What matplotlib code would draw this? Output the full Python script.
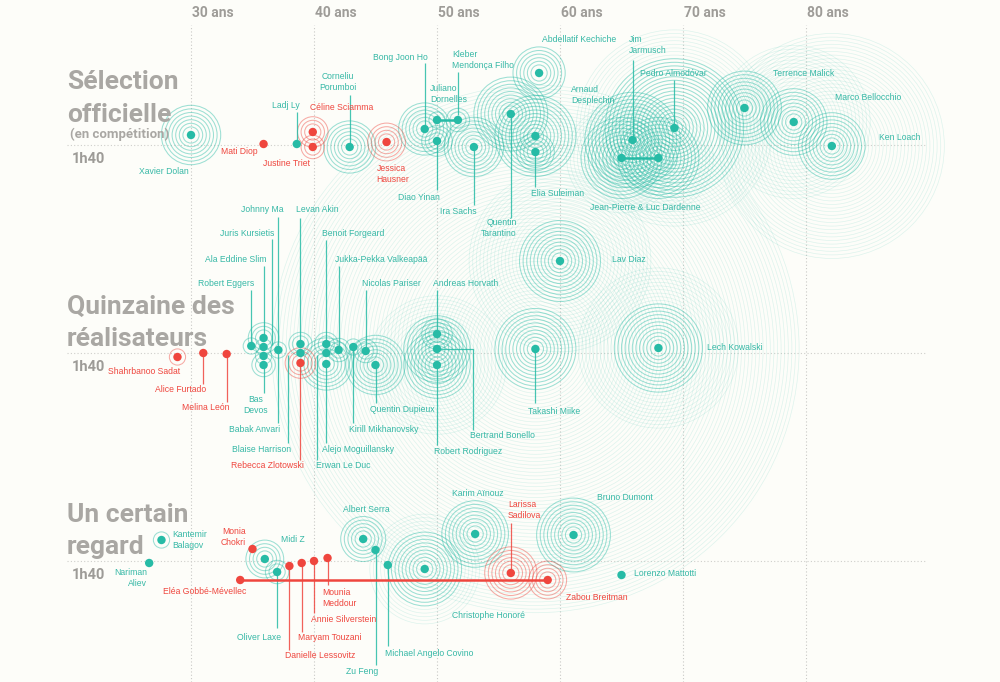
import numpy as np
import matplotlib.pyplot as plt

# Cannes 2019 : age des cineastes, duree du film, nombre de films deja realises

TEAL = '#27bba6'
TEAL_TXT = '#36b8a6'
RED = '#ef463e'
GRIS = '#a9a7a3'
FOND = '#fdfdf9'

NOM_FONT = ['Liberation Sans', 'DejaVu Sans']
TITRE_FONT = ['Roboto', 'DejaVu Sans']

# ######################################################
# data
# ######################################################
# Selection officielle
sel_noms = ["Xavier Dolan", "Mati Diop", "Ladj Ly", "Céline Sciamma", "Justine Triet",
            "Corneliu\nPorumboi", "Jessica\nHausner", "Bong Joon Ho", "Juliano\nDornelles",
            "Kleber\nMendonça Filho", "Diao Yinan", "Ira Sachs", "Quentin\nTarantino",
            "Abdellatif Kechiche", "Arnaud\nDesplechin", "Elia Suleiman", "Jim\nJarmusch",
            "Jean-Pierre & Luc Dardenne", "", "Pedro Almodóvar", "Terrence Malick",
            "Marco Bellocchio", "Ken Loach"]
sel_ages = [30.0, 35.9, 38.6, 39.9, 39.9, 42.9, 45.9, 49.0, 50.0, 51.7, 50.0, 53.0, 56.0,
            58.3, 58.0, 58.0, 65.9, 65.0, 68.0, 69.3, 75.0, 79.0, 82.1]
sel_durees = [120, 102, 102, 126, 96, 96, 106, 132, 150, 150, 108, 96, 162,
              244, 118, 86, 110, 74, 74, 134, 174, 146, 98]
sel_films = [7, 0, 0, 3, 2, 6, 4, 6, 1, 2, 3, 7, 9, 6, 10, 4, 12, 10, 10, 18, 9, 8, 8]
sel_autres = [0, 0, 0, 0, 0, 0, 0, 0, 0, 0, 0, 0, 0, 0, 0, 0, 0, 4, 4, 8, 0, 12, 22]
sel_femmes = ["Mati Diop", "Céline Sciamma", "Justine Triet", "Jessica\nHausner"]

# Quinzaine des realisateurs
qz_noms = ["Shahrbanoo Sadat", "Alice Furtado", "Melina León", "Robert Eggers",
           "Ala Eddine Slim", "Juris Kursietis", "Johnny Ma", "Babak Anvari", "Bas\nDevos",
           "Levan Akin", "Blaise Harrison", "Rebecca Zlotowski", "Benoit Forgeard",
           "Erwan Le Duc", "Alejo Moguillansky", "Jukka-Pekka Valkeapää",
           "Kirill Mikhanovsky", "Nicolas Pariser", "Quentin Dupieux", "Andreas Horvath",
           "Bertrand Bonello", "Robert Rodriguez", "Takashi Miike", "Lav Diaz",
           "Lech Kowalski"]
qz_ages = [28.9, 31.0, 32.9, 34.9, 35.9, 35.9, 37.1, 35.9, 35.9, 38.9, 38.9, 38.9, 41.0,
           41.0, 41.0, 42.0, 43.2, 44.2, 45.0, 50.0, 50.0, 50.0, 58.0, 60.0, 68.0]
qz_durees = [92, 100, 98, 114, 130, 112, 106, 94, 76, 118, 100, 80, 118,
             100, 78, 106, 112, 104, 76, 138, 108, 76, 108, 284, 110]
qz_films = [1, 0, 0, 1, 3, 1, 1, 1, 2, 2, 0, 3, 2, 0, 6, 2, 1, 2, 7, 3, 8, 8, 10, 10, 11]
qz_autres = [0, 0, 0, 0, 0, 0, 0, 0, 0, 0, 0, 0, 0, 0, 0, 0, 0, 0, 0, 0, 0, 10, 62, 14, 10]
qz_femmes = ["Shahrbanoo Sadat", "Alice Furtado", "Melina León", "Rebecca Zlotowski"]

# Un certain regard
ucr_noms = ["Nariman\nAliev", "Kantemir\nBalagov", "Monia\nChokri", "Midi Z", "Oliver Laxe",
            "Eléa Gobbé-Mévellec", "Danielle Lessovitz", "Maryam Touzani", "Annie Silverstein",
            "Mounia\nMeddour", "Albert Serra", "Zu Feng", "Michael Angelo Covino",
            "Christophe Honoré", "Karim Aïnouz", "Larissa\nSadilova", "Zabou Breitman",
            "Bruno Dumont", "Lorenzo Mattotti"]
ucr_ages = [26.6, 27.6, 35.0, 36.0, 37.0, 34.0, 38.0, 39.0, 40.0, 41.1, 44.0, 45.0, 46.0,
            49.0, 53.1, 56.0, 59.0, 61.1, 65.0]
ucr_durees = [96, 142, 124, 104, 78, 62, 90, 96, 100, 106, 144, 122, 92, 84, 154, 76, 62, 152, 72]
ucr_films = [0, 1, 0, 4, 2, 0, 0, 0, 0, 0, 5, 0, 0, 9, 8, 6, 4, 9, 0]
ucr_autres = [0, 0, 0, 0, 0, 0, 0, 0, 0, 0, 0, 0, 0, 5, 0, 0, 0, 0, 0]
ucr_femmes = ["Monia\nChokri", "Eléa Gobbé-Mévellec", "Danielle Lessovitz", "Maryam Touzani",
              "Annie Silverstein", "Mounia\nMeddour", "Larissa\nSadilova", "Zabou Breitman"]

# co-realisateurs
liens = [("Juliano\nDornelles", "Kleber\nMendonça Filho"),
         ("Jean-Pierre & Luc Dardenne", ""),
         ("Eléa Gobbé-Mévellec", "Zabou Breitman")]

ages_grille = [30, 40, 50, 60, 70, 80]
titres = [["Sélection", "officielle"], ["Quinzaine des", "réalisateurs"], ["Un certain", "regard"]]

# ######################################################
# label placement (pixels relative to the dot)
# (dx, dy, ha, leader polyline)
# ######################################################
etiquettes = {
    "Xavier Dolan": (-2, 37, 'right', None),
    "Mati Diop": (-6, 8, 'right', None),
    "Ladj Ly": (3, -38, 'right', [(0, 0), (0, -32)]),
    "Céline Sciamma": (-3, -25, 'left', None),
    "Justine Triet": (-3, 17, 'right', None),
    "Corneliu\nPorumboi": (-12, -65, 'center', [(0, 0), (0, -52)]),
    "Jessica\nHausner": (-10, 32, 'left', None),
    "Bong Joon Ho": (3, -72, 'right', [(0, 0), (0, -66)]),
    "Juliano\nDornelles": (-7, -26, 'left', None),
    "Kleber\nMendonça Filho": (-6, -60, 'left', [(0, -5), (0, -48)]),
    "Diao Yinan": (3, 56, 'right', [(0, 0), (0, 49)]),
    "Ira Sachs": (3, 64, 'right', [(0, 0), (0, 58)]),
    "Quentin\nTarantino": (6, 114, 'right', [(0, 0), (0, 104)]),
    "Abdellatif Kechiche": (3, -33, 'left', None),
    "Arnaud\nDesplechin": (36, -41, 'left', None),
    "Elia Suleiman": (-4, 41, 'left', [(0, 0), (0, 35)]),
    "Jim\nJarmusch": (-4, -95, 'left', [(0, 0), (0, -80)]),
    "Jean-Pierre & Luc Dardenne": (24, 49, 'center', None),
    "Pedro Almodóvar": (-1, -55, 'center', [(0, 0), (0, -48)]),
    "Terrence Malick": (28, -34, 'left', None),
    "Marco Bellocchio": (41, -24, 'left', None),
    "Ken Loach": (47, -8, 'left', None),

    "Shahrbanoo Sadat": (3, 14, 'right', None),
    "Alice Furtado": (3, 36, 'right', [(0, 0), (0, 31)]),
    "Melina León": (3, 54, 'right', [(0, 0), (0, 48)]),
    "Robert Eggers": (3, -63, 'right', [(0, 0), (0, -56)]),
    "Ala Eddine Slim": (3, -79, 'right', [(0, 0), (0, -72)]),
    "Juris Kursietis": (11, -114, 'right', [(8, -2), (8, -108)]),
    "Johnny Ma": (5, -140, 'right', [(0, 0), (0, -133)]),
    "Babak Anvari": (17, 74, 'right', [(14, -6), (14, 67)]),
    "Bas\nDevos": (-8, 40, 'center', [(0, 0), (0, 28)]),
    "Levan Akin": (-4, -134, 'left', [(0, 0), (0, -126)]),
    "Blaise Harrison": (-9, 96, 'right', [(-12, 2), (-12, 90)]),
    "Rebecca Zlotowski": (3, 103, 'right', [(0, 0), (0, 97)]),
    "Benoit Forgeard": (-4, -111, 'left', [(0, 0), (0, -104)]),
    "Erwan Le Duc": (-10, 113, 'left', [(-9, 2), (-9, 107)]),
    "Alejo Moguillansky": (-4, 85, 'left', [(0, 0), (0, 79)]),
    "Jukka-Pekka Valkeapää": (-4, -91, 'left', [(0, 0), (0, -84)]),
    "Kirill Mikhanovsky": (-4, 83, 'left', [(0, 0), (0, 76)]),
    "Nicolas Pariser": (-4, -68, 'left', [(0, 0), (0, -61)]),
    "Quentin Dupieux": (-5, 44, 'left', [(0, 0), (0, 38)]),
    "Andreas Horvath": (-4, -51, 'left', [(0, 0), (0, -44)]),
    "Bertrand Bonello": (33, 87, 'left', [(0, 0), (36, 0), (36, 81)]),
    "Robert Rodriguez": (-3, 86, 'left', [(0, 0), (0, 80)]),
    "Takashi Miike": (-7, 62, 'left', [(0, 0), (0, 54)]),
    "Lav Diaz": (52, -1, 'left', None),
    "Lech Kowalski": (49, -1, 'left', None),

    "Nariman\nAliev": (-2, 15, 'right', None),
    "Kantemir\nBalagov": (11, 0, 'left', None),
    "Monia\nChokri": (-7, -12, 'right', None),
    "Midi Z": (16, -19, 'left', None),
    "Oliver Laxe": (4, 66, 'right', [(0, 0), (0, 56)]),
    "Eléa Gobbé-Mévellec": (6, 12, 'right', None),
    "Danielle Lessovitz": (-4, 90, 'left', [(0, 0), (0, 84)]),
    "Maryam Touzani": (-4, 75, 'left', [(0, 0), (0, 69)]),
    "Annie Silverstein": (-3, 58, 'left', [(0, 0), (0, 52)]),
    "Mounia\nMeddour": (-5, 40, 'left', [(0, 0), (0, 27)]),
    "Albert Serra": (3, -29, 'center', None),
    "Zu Feng": (3, 122, 'right', [(0, 0), (0, 115)]),
    "Michael Angelo Covino": (-3, 88, 'left', [(0, 0), (0, 81)]),
    "Christophe Honoré": (27, 47, 'left', None),
    "Karim Aïnouz": (-23, -40, 'left', None),
    "Larissa\nSadilova": (-3, -63, 'left', [(0, 0), (0, -50)]),
    "Zabou Breitman": (18, 18, 'left', None),
    "Bruno Dumont": (23, -37, 'left', None),
    "Lorenzo Mattotti": (12, -1, 'left', None),
}

# ######################################################
# figure
# ######################################################
W, H = 1000, 682
PX_AN = 12.3       # pixels per year
MIN_PX = 2.0       # minutes per pixel
X30 = 191          # pixel of 30 ans
BASES = [145, 353, 561]   # pixel of the 1h40 line in each block
ECART = (BASES[1] - BASES[0]) * MIN_PX

fig = plt.figure(figsize=(W / 100, H / 100), dpi=100, facecolor=FOND)
ax = fig.add_axes([0, 0, 1, 1])
ax.set_facecolor(FOND)
ax.set_xlim(30 - X30 / PX_AN, 30 + (W - X30) / PX_AN)
ax.set_ylim(100 - (H - BASES[0]) * MIN_PX, 100 + BASES[0] * MIN_PX)
ax.axis('off')

sx = 1 / PX_AN
sy = MIN_PX


def rayon(k):
    # radius in pixels of the k-th ring
    return 4.5 + 3.6 * k


def taille(r_px):
    return (2 * r_px * 0.72) ** 2


# grid
for a in ages_grille:
    ax.axvline(a, ymin=0, ymax=1 - 25 / H, color='#c9c9c6', lw=0.8,
               linestyle=(0, (1, 2)), zorder=0)
    ax.text(a + 1 * sx, 1 - 17 / H, "%d ans" % a, transform=ax.get_xaxis_transform(),
            ha='left', va='baseline', fontsize=10, fontweight='bold', color='#9e9c98',
            family=TITRE_FONT)

blocs = [(sel_noms, sel_ages, sel_durees, sel_films, sel_autres, sel_femmes),
         (qz_noms, qz_ages, qz_durees, qz_films, qz_autres, qz_femmes),
         (ucr_noms, ucr_ages, ucr_durees, ucr_films, ucr_autres, ucr_femmes)]

positions = {}
for i, (noms, ages, durees, films, autres, femmes) in enumerate(blocs):
    base = 100 - i * ECART
    ax.hlines(base, 30 + (67 - X30) / PX_AN, 30 + (927 - X30) / PX_AN, color='#cfcfcb',
              lw=0.8, linestyle=(0, (1, 2)), zorder=0)

    couleurs = [RED if n in femmes else TEAL for n in noms]
    ys = [d - i * ECART for d in durees]
    for n, a, y in zip(noms, ages, ys):
        positions[n] = (a, y)

    # rings: faint ones first, then the main ones
    for niveau, (lw, alpha) in enumerate([(0.5, 0.15), (0.75, 0.45)]):
        for coul in [TEAL, RED]:
            xr, yr, sr = [], [], []
            for a, y, f, o, c in zip(ages, ys, films, autres, couleurs):
                if c != coul:
                    continue
                ks = range(f + 1, f + o + 1) if niveau == 0 else range(1, f + 1)
                for k in ks:
                    xr.append(a)
                    yr.append(y)
                    sr.append(taille(rayon(k)))
            if xr:
                ax.scatter(xr, yr, s=sr, facecolors='none', edgecolors=coul,
                           linewidths=lw, alpha=alpha, zorder=1)

    # leaders and labels
    for n, a, y, c in zip(noms, ages, ys, couleurs):
        if n not in etiquettes:
            continue
        dx, dy, ha, ligne = etiquettes[n]
        if ligne is not None:
            lx = [a + p[0] * sx for p in ligne]
            ly = [y - p[1] * sy for p in ligne]
            ax.plot(lx, ly, color=c, lw=0.9, alpha=0.85, zorder=2,
                    solid_capstyle='butt')
        ax.text(a + dx * sx, y - dy * sy, n, ha=ha, va='center', fontsize=6.2,
                color=(c if c == RED else TEAL_TXT), family=NOM_FONT,
                linespacing=1.25, zorder=5)

    ax.scatter(ages, ys, s=taille(4.2), c=couleurs, linewidths=0, zorder=4)

# co-directors
for n1, n2 in liens:
    (a1, y1), (a2, y2) = positions[n1], positions[n2]
    c = RED if n1 in ucr_femmes else TEAL
    ax.plot([a1, a2], [y1, y2], color=c, lw=1.8, zorder=3)

# block titles
for i, (l1, l2) in enumerate(titres):
    b = BASES[i]
    if i == 0:
        y1, y2 = b - 56, b - 23
        fig.text(70 / W, 1 - (b - 7) / H, "(en compétition)", fontsize=9.5,
                 fontweight='bold', color=GRIS, family=TITRE_FONT, va='baseline')
    else:
        y1, y2 = b - 39, b - 7
    fig.text(67 / W, 1 - y1 / H, l1, fontsize=19, fontweight='bold', color=GRIS,
             family=TITRE_FONT, va='baseline')
    fig.text(67 / W, 1 - y2 / H, l2, fontsize=19, fontweight='bold', color=GRIS,
             family=TITRE_FONT, va='baseline')
    fig.text(72 / W, 1 - (b + 18) / H, "1h40", fontsize=10.5, fontweight='bold',
             color='#9d9b97', family=TITRE_FONT, va='baseline')

fig.savefig('out.png', dpi=100, facecolor=FOND)
